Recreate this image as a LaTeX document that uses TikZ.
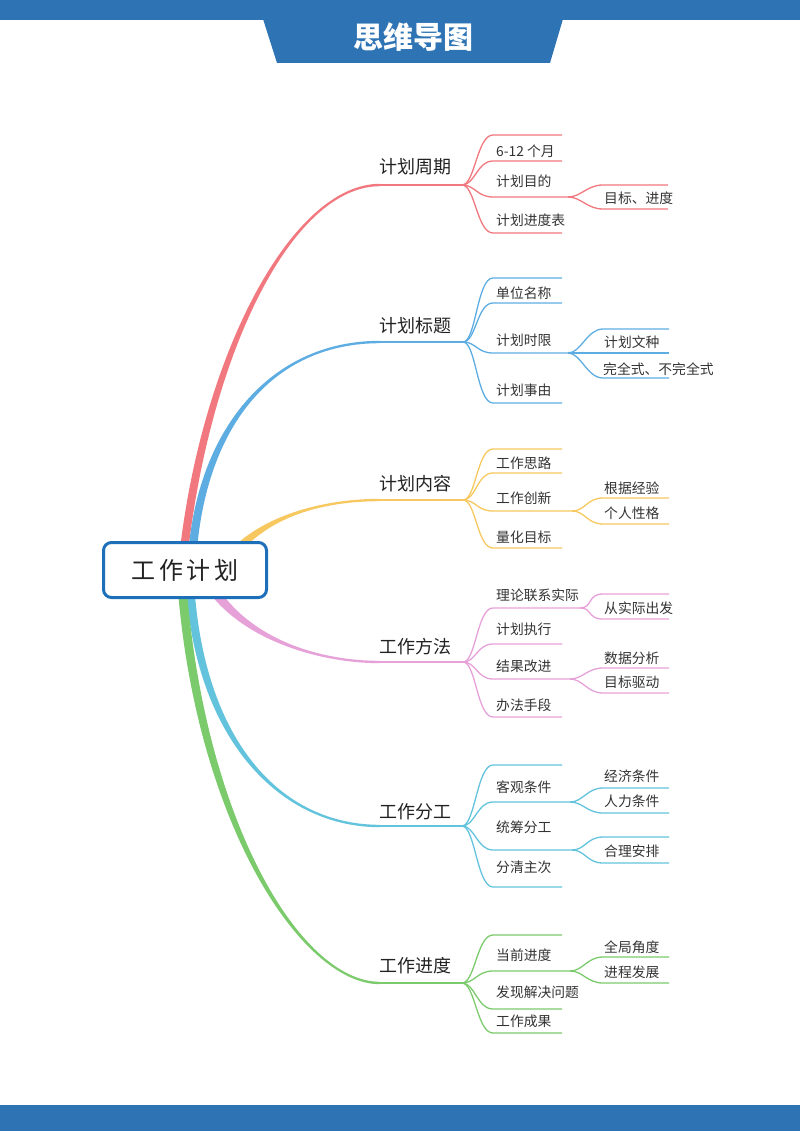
\documentclass[tikz,border=0pt]{standalone}
\usepackage{fontspec}
\setmainfont{Noto Sans CJK SC}
\usetikzlibrary{calc}
\definecolor{banner}{HTML}{2E74B5}
\definecolor{cBd}{HTML}{1C6FB8}
\definecolor{cR}{HTML}{F0787E}
\definecolor{cB}{HTML}{5DADE2}
\definecolor{cY}{HTML}{F6C85F}
\definecolor{cP}{HTML}{E6A1D9}
\definecolor{cC}{HTML}{63C3DD}
\definecolor{cG}{HTML}{7BCB6C}
\definecolor{txt}{HTML}{333333}
\definecolor{txtm}{HTML}{222222}
% tapered branch: color, start, c1, c2, end, half width start, half width end (signed)
\newcommand\taper[7]{\fill[#1] ($(#2)+(-#6,0)$) .. controls ($(#3)+(-#6,0)$) and ($(#4)-(0,#7)$) .. ($(#5)-(0,#7)$) -- ($(#5)+(0,#7)$) .. controls ($(#4)+(0,#7)$) and ($(#3)+(#6,0)$) .. ($(#2)+(#6,0)$) -- cycle;}
% connector: color, from, name, xstart, y, xend
\newcommand\conn[6]{\coordinate (#3a) at (#4,#5); \coordinate (#3b) at (#6,#5);
 \draw[#1, kidline] (#2) .. controls +(13,0) and +(-16,0) .. (#3a) -- (#3b);}
\tikzset{
 kidline/.style={line width=1.3pt},
 mainline/.style={line width=1.8pt},
 kid/.style={anchor=west, inner sep=0pt, text=txt, font=\fontsize{13.8}{13.8}\selectfont},
 mainlbl/.style={anchor=west, inner sep=0pt, text=txtm, font=\fontsize{18}{18}\selectfont},
}
\begin{document}
\begin{tikzpicture}[x=1pt,y=-1pt]
\useasboundingbox (0,0) rectangle (800,1131);
% banner
\fill[banner] (0,0) rectangle (800,20);
\fill[banner] (263,19) -- (563,19) -- (550,63) -- (277,63) -- cycle;
\node[text=white, font=\fontsize{30}{30}\selectfont\bfseries] (title) at (413,37) {思维导图};
\fill[banner] (0,1105) rectangle (800,1131);

% main branch anchors
\coordinate (s1) at (183,560); \coordinate (e1) at (380,185); \coordinate (h1) at (462,185);
\coordinate (s2) at (192,560); \coordinate (e2) at (380,342); \coordinate (h2) at (463,342);
\coordinate (s3) at (228,560); \coordinate (e3) at (380,500); \coordinate (h3) at (463,500);
\coordinate (s4) at (210,585); \coordinate (e4) at (380,662); \coordinate (h4) at (463,662);
\coordinate (s5) at (190,585); \coordinate (e5) at (380,826); \coordinate (h5) at (462,826);
\coordinate (s6) at (182,585); \coordinate (e6) at (380,983); \coordinate (h6) at (462,983);
\coordinate (q1a) at (204,360); \coordinate (q1b) at (290,185);
\coordinate (q2a) at (200,430); \coordinate (q2b) at (270,342);
\coordinate (q3a) at (262,515); \coordinate (q3b) at (325,500);
\coordinate (q4a) at (245,640); \coordinate (q4b) at (320,662);
\coordinate (q5a) at (200,740); \coordinate (q5b) at (280,826);
\coordinate (q6a) at (200,820); \coordinate (q6b) at (300,983);

\taper{cR}{s1}{q1a}{q1b}{e1}{4.2}{1.2}
\taper{cB}{s2}{q2a}{q2b}{e2}{4.2}{1.2}
\taper{cY}{s3}{q3a}{q3b}{e3}{6}{1.2}
\taper{cP}{s4}{q4a}{q4b}{e4}{6}{-1.2}
\taper{cC}{s5}{q5a}{q5b}{e5}{4.2}{-1.2}
\taper{cG}{s6}{q6a}{q6b}{e6}{4.5}{-1.2}

\draw[cR, mainline] (e1) -- (h1);
\draw[cB, mainline] (e2) -- (h2);
\draw[cY, mainline] (e3) -- (h3);
\draw[cP, mainline] (e4) -- (h4);
\draw[cC, mainline] (e5) -- (h5);
\draw[cG, mainline] (e6) -- (h6);

% center
\node[draw=cBd, line width=3pt, rounded corners=8pt, fill=white, minimum width=163pt, minimum height=55pt, text=txtm, font=\fontsize{24}{24}\selectfont] (center) at (185,570) {工\hspace{3.5pt}作\hspace{3.5pt}计\hspace{3.5pt}划};

% ---- branch 1
\node[mainlbl] (m1) at (379,167) {计划周期};
\conn{cR}{h1}{l11}{493}{135}{562}
\conn{cR}{h1}{l12}{493}{161}{562}
\coordinate (sh1) at (568,197);
\conn{cR}{h1}{l13}{493}{197}{568}
\conn{cR}{h1}{l14}{493}{233}{562}
\conn{cR}{sh1}{u11}{603}{185}{668}
\conn{cR}{sh1}{u12}{603}{209}{668}
\node[kid] (k11) at (496,151) {6-12 个月};
\node[kid] (k12) at (496,181) {计划目的};
\node[kid] (k13) at (496,220) {计划进度表};
\node[kid] (k131) at (604,198) {目标、进度};

% ---- branch 2
\node[mainlbl] (m2) at (379,326) {计划标题};
\conn{cB}{h2}{l21}{493}{278}{562}
\conn{cB}{h2}{l22}{493}{303}{562}
\coordinate (sh2) at (568,353);
\conn{cB}{h2}{l23}{493}{353}{568}
\conn{cB}{h2}{l24}{493}{403}{562}
\conn{cB}{sh2}{u21}{603}{329}{669}
\conn{cB}{sh2}{u22}{603}{353}{669}
\conn{cB}{sh2}{u23}{603}{378}{669}
\node[kid] (k21) at (496,293) {单位名称};
\node[kid] (k22) at (496,340) {计划时限};
\node[kid] (k23) at (496,390) {计划事由};
\node[kid] (k221) at (604,342) {计划文种};
\node[kid] (k222) at (603,369) {完全式、不完全式};

% ---- branch 3
\node[mainlbl] (m3) at (379,484) {计划内容};
\conn{cY}{h3}{l31}{493}{449}{562}
\conn{cY}{h3}{l32}{493}{473}{562}
\coordinate (sh3) at (572,511);
\conn{cY}{h3}{l33}{493}{511}{572}
\conn{cY}{h3}{l34}{493}{548}{562}
\conn{cY}{sh3}{u31}{603}{498}{669}
\conn{cY}{sh3}{u32}{603}{524}{669}
\node[kid] (k31) at (496,463) {工作思路};
\node[kid] (k32) at (496,498) {工作创新};
\node[kid] (k33) at (496,537) {量化目标};
\node[kid] (k321) at (604,488) {根据经验};
\node[kid] (k322) at (604,513) {个人性格};

% ---- branch 4
\node[mainlbl] (m4) at (379,647) {工作方法};
\coordinate (sh4a) at (580,608);
\conn{cP}{h4}{l41}{493}{608}{580}
\conn{cP}{h4}{l42}{493}{644}{562}
\coordinate (sh4b) at (570,679);
\conn{cP}{h4}{l43}{493}{679}{570}
\conn{cP}{h4}{l44}{493}{717}{562}
\conn{cP}{sh4a}{u41}{603}{594}{669}
\conn{cP}{sh4a}{u42}{603}{619}{669}
\conn{cP}{sh4b}{u43}{603}{668}{669}
\conn{cP}{sh4b}{u44}{603}{693}{669}
\node[kid] (k41) at (496,595) {理论联系实际};
\node[kid] (k42) at (496,629) {计划执行};
\node[kid] (k43) at (496,666) {结果改进};
\node[kid] (k44) at (496,705) {办法手段};
\node[kid] (k411) at (604,608) {从实际出发};
\node[kid] (k431) at (604,658) {数据分析};
\node[kid] (k432) at (604,682) {目标驱动};

% ---- branch 5
\node[mainlbl] (m5) at (379,812) {工作分工};
\conn{cC}{h5}{l51}{493}{765}{562}
\coordinate (sh5a) at (570,802);
\conn{cC}{h5}{l52}{493}{802}{570}
\coordinate (sh5b) at (572,850);
\conn{cC}{h5}{l53}{493}{850}{572}
\conn{cC}{h5}{l54}{493}{887}{562}
\conn{cC}{sh5a}{u51}{603}{788}{669}
\conn{cC}{sh5a}{u52}{603}{813}{669}
\conn{cC}{sh5b}{u53}{603}{837}{669}
\conn{cC}{sh5b}{u54}{603}{863}{669}
\node[kid] (k51) at (496,787) {客观条件};
\node[kid] (k52) at (496,827) {统筹分工};
\node[kid] (k53) at (496,867) {分清主次};
\node[kid] (k511) at (604,776) {经济条件};
\node[kid] (k512) at (604,801) {人力条件};
\node[kid] (k521) at (604,851) {合理安排};

% ---- branch 6
\node[mainlbl] (m6) at (379,966) {工作进度};
\conn{cG}{h6}{l61}{493}{935}{562}
\coordinate (sh6) at (570,971);
\conn{cG}{h6}{l62}{493}{971}{570}
\conn{cG}{h6}{l63}{493}{1009}{562}
\conn{cG}{h6}{l64}{493}{1033}{562}
\conn{cG}{sh6}{u61}{603}{957}{669}
\conn{cG}{sh6}{u62}{603}{983}{669}
\node[kid] (k61) at (496,955) {当前进度};
\node[kid] (k62) at (496,992) {发现解决问题};
\node[kid] (k63) at (496,1021) {工作成果};
\node[kid] (k611) at (604,947) {全局角度};
\node[kid] (k612) at (604,972) {进程发展};
\end{tikzpicture}
\end{document}
